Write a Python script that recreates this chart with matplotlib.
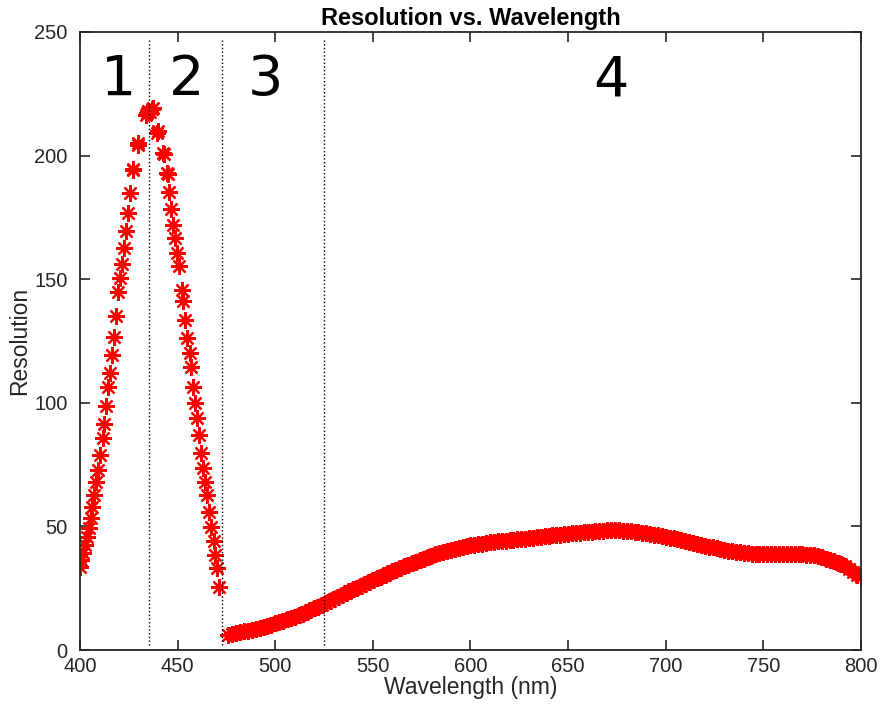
import matplotlib
matplotlib.use("Agg")
import matplotlib.pyplot as plt

plt.rcParams['font.family'] = ['Liberation Sans', 'DejaVu Sans']

# region 1 (rising edge)
rise_x = [400.2, 400.5, 401.7, 402.6, 403.7, 404.6, 405.5, 406.3, 407.3, 408.2,
          409.1, 410.3, 411.6, 412.5, 413.5, 414.5, 415.5, 416.6, 417.6, 418.5,
          419.6, 420.5, 421.4, 422.4, 423.4, 424.5, 425.6, 427.0, 427.3, 429.6,
          429.9, 433.6, 434.2, 435.0]
rise_y = [33.7, 36.4, 39.1, 42.5, 45.8, 49.2, 53.3, 57.7, 62.7, 68.1,
          72.8, 78.9, 85.6, 91.4, 98.7, 106.3, 112.2, 119.3, 126.5, 135.1,
          144.7, 150.4, 156.1, 162.5, 169.6, 176.7, 184.7, 194.0, 194.6, 204.3,
          204.9, 216.5, 217.1, 218.2]

# region 2 (falling edge)
fall_x = [435.9, 436.8, 437.6, 439.6, 440.1, 442.4, 442.8, 444.5, 444.9, 445.8,
          446.8, 447.8, 448.9, 449.9, 450.9, 452.2, 453.0, 453.8, 454.7, 456.1,
          456.9, 458.1, 459.0, 459.8, 461.0, 462.1, 463.2, 464.1, 465.3, 466.3,
          467.2, 468.4, 469.2, 470.1, 471.3]
fall_y = [217.8, 218.8, 219.3, 209.3, 209.8, 201.2, 200.7, 193.1, 192.6, 185.4,
          178.4, 171.9, 166.5, 160.7, 155.3, 145.6, 141.3, 133.5, 126.1, 120.0,
          114.6, 106.5, 99.8, 93.7, 87.0, 79.6, 73.5, 68.1, 62.7, 55.9,
          49.9, 44.2, 38.4, 33.0, 25.6]

# regions 3 and 4 (dense band), 2 nm steps
band_x = list(range(476, 802, 2))
band_y = [6.0, 6.4, 6.8, 7.1, 7.5, 7.8, 8.2, 8.5, 8.9, 9.4,
          9.8, 10.3, 10.8, 11.3, 11.8, 12.4, 12.9, 13.5, 14.1, 14.7,
          15.4, 16.1, 16.8, 17.5, 18.3, 19.1, 20.0, 20.8, 21.5, 22.2,
          22.9, 23.7, 24.5, 25.2, 26.0, 26.8, 27.5, 28.3, 29.0, 29.7,
          30.4, 31.1, 31.8, 32.5, 33.1, 33.8, 34.4, 35.0, 35.7, 36.3,
          36.9, 37.6, 38.2, 38.7, 39.1, 39.6, 40.0, 40.5, 40.9, 41.3,
          41.6, 42.0, 42.3, 42.5, 42.8, 43.0, 43.3, 43.5, 43.7, 43.9,
          44.1, 44.2, 44.4, 44.6, 44.7, 44.9, 45.0, 45.2, 45.4, 45.6,
          45.8, 46.0, 46.2, 46.4, 46.5, 46.7, 46.8, 47.0, 47.2, 47.3,
          47.5, 47.6, 47.8, 47.9, 48.1, 48.2, 48.3, 48.4, 48.5, 48.5,
          48.4, 48.3, 48.2, 48.0, 47.9, 47.7, 47.5, 47.2, 47.0, 46.7,
          46.4, 46.1, 45.8, 45.4, 45.1, 44.7, 44.4, 44.0, 43.6, 43.3,
          42.9, 42.6, 42.2, 41.8, 41.5, 41.1, 40.8, 40.5, 40.2, 39.9,
          39.7, 39.5, 39.3, 39.2, 39.0, 38.9, 38.8, 38.8, 38.8, 38.7,
          38.7, 38.7, 38.7, 38.7, 38.7, 38.7, 38.7, 38.7, 38.6, 38.6,
          38.4, 38.0, 37.5, 37.0, 36.4, 35.8, 35.2, 34.6, 33.8, 32.8,
          31.6, 30.5, 29.5]

# region borders and labels
borders = [435.5, 472.5, 525.0]
region_labels = ['1', '2', '3', '4']
label_x = [419.5, 454.5, 495.0, 672.0]

fig = plt.figure(figsize=(8.8, 7.04), dpi=100)
ax = fig.add_axes([0.0909, 0.0767, 0.8875, 0.878])

mk = dict(marker=(8, 2, 0), linestyle='none', color='red', markersize=12,
          markeredgewidth=1.6)
# dense band: markers overlap into a solid strip
ax.plot(band_x, band_y, color='red', linewidth=10, solid_capstyle='butt')
ax.plot(band_x, band_y, **mk)
ax.plot(rise_x, rise_y, **mk)
ax.plot(fall_x, fall_y, **mk)

for b in borders:
    ax.plot([b, b], [2, 247], color='black', linestyle=':', linewidth=1.0)

for t, lx in zip(region_labels, label_x):
    ax.text(lx, 230.5, t, fontsize=40, family='DejaVu Sans', ha='center', va='center')

ax.set_xlim(400, 800)
ax.set_ylim(0, 250)
ax.set_xticks(range(400, 801, 50))
ax.set_yticks(range(0, 251, 50))
ax.tick_params(direction='in', length=7, width=1.2, top=True, right=True,
               labelsize=14.5, colors='#262626')
ax.tick_params(axis='x', pad=5)
ax.tick_params(axis='y', pad=9)
for s in ax.spines.values():
    s.set_linewidth(1.3)
    s.set_color('#262626')

ax.set_xlabel('Wavelength (nm)', fontsize=16.5, color='#262626', labelpad=0)
ax.set_ylabel('Resolution', fontsize=16.5, color='#262626', labelpad=2)
ax.set_title('Resolution vs. Wavelength', fontsize=17, fontweight='bold', pad=5)

fig.savefig('out.png', dpi=100)
